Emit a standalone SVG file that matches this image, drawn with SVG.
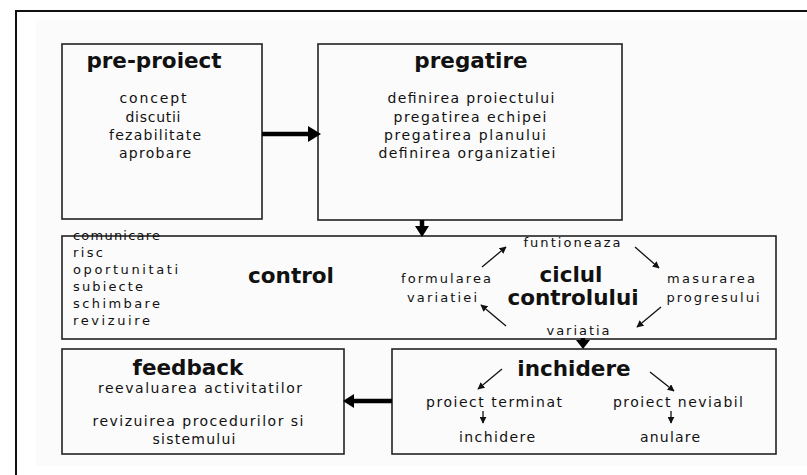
<svg xmlns="http://www.w3.org/2000/svg" width="807" height="475" viewBox="0 0 807 475">
  <defs>
    <style>
      .box { fill: none; stroke: #222; stroke-width: 1.6; }
      .head { font-family: "DejaVu Sans", Verdana, sans-serif; font-weight: bold; font-size: 21.5px; fill: #111; text-anchor: middle; }
      .txt { font-family: "DejaVu Sans", Verdana, sans-serif; font-size: 13px; fill: #111; }
      .big { font-size: 14px; }
      .mid { text-anchor: middle; }
      .thick { stroke: #000; stroke-width: 4.5; fill: none; }
      .thin { stroke: #111; stroke-width: 1.3; fill: none; marker-end: url(#head); }
    </style>
    <marker id="head" viewBox="0 0 10 10" refX="9" refY="5" markerWidth="7" markerHeight="7" markerUnits="userSpaceOnUse" orient="auto">
      <path d="M0,0 L10,5 L0,10 z" fill="#111"/>
    </marker>
  </defs>

  <!-- page background and frame -->
  <rect x="0" y="0" width="807" height="475" fill="#ffffff"/>
  <rect x="36" y="20" width="771" height="446" fill="#fbfbfb"/>
  <path d="M16,475 V11 H807" fill="none" stroke="#111" stroke-width="2"/>

  <g id="pre-proiect">
    <rect class="box" x="62" y="44" width="200" height="175"/>
    <text class="head" x="154" y="68">pre-proiect</text>
    <text class="txt big mid" x="153" y="103" textLength="67">concept</text>
    <text class="txt big mid" x="153" y="122" textLength="55">discutii</text>
    <text class="txt big mid" x="155" y="140" textLength="92">fezabilitate</text>
    <text class="txt big mid" x="155" y="158" textLength="72">aprobare</text>
  </g>

  <g id="pregatire">
    <rect class="box" x="318" y="44" width="304" height="176"/>
    <text class="head" x="471" y="68">pregatire</text>
    <text class="txt big mid" x="471" y="103" textLength="167">definirea proiectului</text>
    <text class="txt big mid" x="470" y="122" textLength="153">pregatirea echipei</text>
    <text class="txt big mid" x="465" y="140" textLength="162">pregatirea planului</text>
    <text class="txt big mid" x="467" y="158" textLength="177">definirea organizatiei</text>
  </g>

  <g id="control">
    <rect class="box" x="62" y="236" width="714" height="103"/>
    <text class="txt" x="73" y="240" textLength="87">comunicare</text>
    <text class="txt" x="73" y="257" textLength="30">risc</text>
    <text class="txt" x="73" y="274" textLength="105">oportunitati</text>
    <text class="txt" x="73" y="291" textLength="70">subiecte</text>
    <text class="txt" x="73" y="308" textLength="87">schimbare</text>
    <text class="txt" x="73" y="325" textLength="77">revizuire</text>
    <text class="head" x="291" y="283">control</text>
  </g>

  <g id="ciclul-controlului">
    <text class="txt mid" x="572" y="247" textLength="97">funtioneaza</text>
    <text class="head" x="571" y="282">ciclul</text>
    <text class="head" x="573" y="305">controlului</text>
    <text class="txt mid" x="446" y="283" textLength="90">formularea</text>
    <text class="txt mid" x="442" y="302" textLength="70">variatiei</text>
    <text class="txt mid" x="711" y="283" textLength="88">masurarea</text>
    <text class="txt mid" x="713" y="302" textLength="93">progresului</text>
    <text class="txt mid" x="578" y="335" textLength="63">variatia</text>
  </g>

  <g id="feedback">
    <rect class="box" x="62" y="349" width="282" height="105"/>
    <text class="head" x="188" y="375">feedback</text>
    <text class="txt big mid" x="200" y="393" textLength="204">reevaluarea activitatilor</text>
    <text class="txt big mid" x="198" y="426" textLength="211">revizuirea procedurilor si</text>
    <text class="txt big mid" x="194" y="444" textLength="83">sistemului</text>
  </g>

  <g id="inchidere">
    <rect class="box" x="392" y="349" width="384" height="105"/>
    <text class="head" x="574" y="376">inchidere</text>
    <text class="txt big mid" x="494" y="407" textLength="136">proiect terminat</text>
    <text class="txt big mid" x="678" y="407" textLength="130">proiect neviabil</text>
    <text class="txt big mid" x="497" y="442" textLength="76">inchidere</text>
    <text class="txt big mid" x="670" y="442" textLength="60">anulare</text>
  </g>

  <g id="connectors">
    <!-- flow between phases -->
    <path class="thick" d="M262,134 H310"/>
    <path d="M308,126 L321,134 L308,142 z" fill="#000"/>
    <path class="thick" d="M422,220 V228"/>
    <path d="M415,226 L422,237 L429,226 z" fill="#000"/>
    <path class="thick" d="M583,338 V342"/>
    <path d="M576,340 L583,349 L590,340 z" fill="#000"/>
    <path class="thick" d="M392,401 H352"/>
    <path d="M354,394 L343,401 L354,408 z" fill="#000"/>
    <!-- control cycle -->
    <path class="thin" d="M482,267 L506,247"/>
    <path class="thin" d="M635,247 L659,268"/>
    <path class="thin" d="M661,307 L637,327"/>
    <path class="thin" d="M506,326 L481,305"/>
    <!-- closure outcomes -->
    <path class="thin" d="M502,369 L478,389"/>
    <path class="thin" d="M650,372 L674,391"/>
    <path class="thin" d="M483,411 V423"/>
    <path class="thin" d="M671,411 V423"/>
  </g>
</svg>
